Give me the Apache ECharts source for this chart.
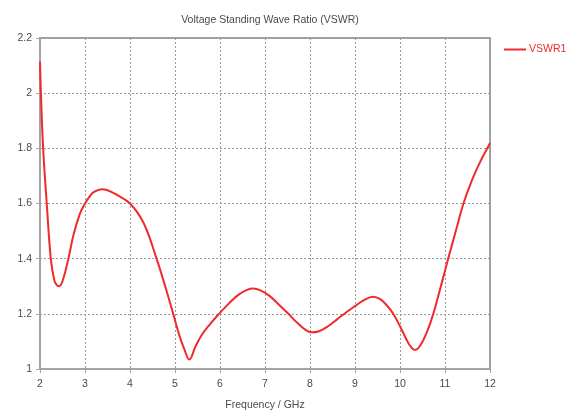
<!DOCTYPE html>
<html>
<head>
<meta charset="utf-8">
<script src="https://cdn.jsdelivr.net/npm/echarts@6/dist/echarts.min.js"></script>
<style>
  html, body { margin: 0; padding: 0; background: #ffffff; }
  #chart { width: 577px; height: 416px; }
</style>
</head>
<body>
<div id="chart"></div>
<script>
// Simulated VSWR of the antenna across the band
const frequencyGHz = [
  2.00, 2.02, 2.07, 2.15, 2.24, 2.32, 2.37, 2.42, 2.50, 2.63,
  2.75, 2.88, 3.00, 3.10, 3.20, 3.37, 3.50, 3.70, 4.00, 4.30,
  4.59, 4.80, 4.96, 5.10, 5.20, 5.32, 5.45, 5.60, 5.78, 5.95,
  6.20, 6.40, 6.60, 6.74, 6.90, 7.10, 7.30, 7.52, 7.70, 7.90,
  8.04, 8.20, 8.40, 8.60, 8.80, 9.00, 9.20, 9.40, 9.56, 9.70,
  9.85, 10.00, 10.15, 10.25, 10.33, 10.45, 10.60, 10.74, 10.90, 11.07,
  11.24, 11.41, 11.60, 11.80, 11.94, 12.00
];
const vswr1 = [
  2.115, 2.00, 1.80, 1.60, 1.40, 1.32, 1.305, 1.300, 1.318, 1.40,
  1.49, 1.56, 1.600, 1.625, 1.642, 1.652, 1.648, 1.632, 1.600, 1.53,
  1.40, 1.29, 1.20, 1.12, 1.075, 1.034, 1.08, 1.125, 1.163, 1.195,
  1.238, 1.268, 1.287, 1.292, 1.285, 1.265, 1.235, 1.20, 1.17, 1.142,
  1.133, 1.137, 1.155, 1.18, 1.205, 1.228, 1.250, 1.262, 1.253, 1.232,
  1.20, 1.155, 1.105, 1.078, 1.069, 1.085, 1.135, 1.20, 1.295, 1.40,
  1.50, 1.60, 1.685, 1.757, 1.80, 1.82
];

const xTicks = { min: 2, max: 12, step: 1 };
const yTicks = { min: 1, max: 2.2, step: 0.2 };

const frameColor = '#a3a3a3';
const gridColor = '#9a9a9a';
const textColor = '#4a4a4a';
const lineColor = '#f02a2a';
const fontFamily = 'Liberation Sans, Arial, sans-serif';

const chart = echarts.init(document.getElementById('chart'), null, { renderer: 'canvas' });

chart.setOption({
  animation: false,
  backgroundColor: '#ffffff',
  title: {
    text: 'Voltage Standing Wave Ratio (VSWR)',
    left: 265,
    textAlign: 'center',
    top: 10,
    textStyle: { fontSize: 10.5, fontWeight: 'normal', color: textColor, fontFamily: fontFamily }
  },
  legend: {
    left: 499,
    top: 39,
    icon: 'rect',
    itemWidth: 22,
    itemHeight: 2,
    itemGap: 4,
    textStyle: { color: lineColor, fontSize: 10.5, fontFamily: fontFamily, padding: [0, 0, 0, -2] },
    data: ['VSWR1']
  },
  grid: {
    left: 40, right: 87, top: 38, bottom: 44,
    show: true,
    borderColor: frameColor,
    borderWidth: 2
  },
  xAxis: {
    type: 'value',
    min: xTicks.min, max: xTicks.max, interval: xTicks.step,
    name: 'Frequency / GHz',
    nameLocation: 'middle',
    nameGap: 31,
    nameTextStyle: { color: textColor, fontSize: 10.5, fontFamily: fontFamily },
    axisLine: { show: true, onZero: false, lineStyle: { color: frameColor, width: 2 } },
    axisTick: { show: true, length: 4, lineStyle: { color: frameColor } },
    axisLabel: { color: textColor, fontSize: 10.5, fontFamily: fontFamily, margin: 10 },
    splitLine: { show: true, lineStyle: { color: gridColor, type: [2, 2], width: 1 } }
  },
  yAxis: {
    type: 'value',
    min: yTicks.min, max: yTicks.max, interval: yTicks.step,
    axisLine: { show: true, onZero: false, lineStyle: { color: frameColor, width: 2 } },
    axisTick: { show: true, length: 4, lineStyle: { color: frameColor } },
    axisLabel: {
      color: textColor, fontSize: 10.5, fontFamily: fontFamily, margin: 8,
      formatter: function (v) { return String(Math.round(v * 10) / 10); }
    },
    splitLine: { show: true, lineStyle: { color: gridColor, type: [2, 2], width: 1 } }
  },
  series: [{
    name: 'VSWR1',
    type: 'line',
    data: frequencyGHz.map(function (f, i) { return [f, vswr1[i]]; }),
    smooth: 0.4,
    showSymbol: false,
    symbol: 'none',
    clip: true,
    lineStyle: { color: lineColor, width: 2 },
    itemStyle: { color: lineColor }
  }]
});
</script>
</body>
</html>
